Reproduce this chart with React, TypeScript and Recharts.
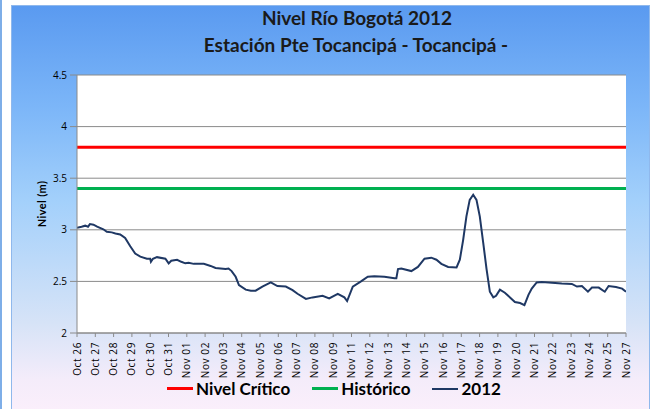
import React from 'react';
import { LineChart, Line, XAxis, YAxis, CartesianGrid, ReferenceLine } from 'recharts';

// x positions are in tick units (0 = Oct 26 tick, 30 = Nov 27 tick)
const fechas = [
  'Oct 26', 'Oct 27', 'Oct 28', 'Oct 29', 'Oct 30', 'Oct 31', 'Nov 01', 'Nov 02', 'Nov 03', 'Nov 04',
  'Nov 05', 'Nov 06', 'Nov 07', 'Nov 08', 'Nov 09', 'Nov 11', 'Nov 12', 'Nov 13', 'Nov 14', 'Nov 15',
  'Nov 16', 'Nov 17', 'Nov 18', 'Nov 19', 'Nov 20', 'Nov 21', 'Nov 22', 'Nov 23', 'Nov 24', 'Nov 25', 'Nov 27',
];

const posicion = [
  0, 0.25, 0.45, 0.6, 0.71, 0.9, 1.1, 1.44, 1.63, 1.9, 2.1, 2.36, 2.63, 2.91, 3.18, 3.46, 3.82, 4.0, 4.04, 4.15,
  4.37, 4.83, 5.01, 5.15, 5.47, 5.7, 5.92, 6.1, 6.38, 6.93, 7.3, 7.57, 8.12, 8.28, 8.45, 8.67, 8.85, 9.22, 9.5, 9.76,
  10.13, 10.59, 10.95, 11.41, 11.78, 12.05, 12.51, 12.87, 13.42, 13.78, 14.25, 14.61, 14.76, 15.07, 15.52, 15.89, 16.25, 16.8, 17.35, 17.45,
  17.54, 17.72, 18.27, 18.63, 18.99, 19.36, 19.64, 19.91, 20.28, 20.74, 20.92, 21.1, 21.28, 21.46, 21.65, 21.83, 22.01, 22.2, 22.38, 22.56,
  22.75, 22.9, 23.11, 23.38, 23.75, 23.93, 24.21, 24.45, 24.67, 24.85, 25.12, 25.4, 25.77, 26.49, 27.04, 27.32, 27.59, 27.92, 28.14, 28.51,
  28.84, 29.05, 29.45, 29.79, 30,
];

const nivel2012 = [
  3.02, 3.03, 3.04, 3.03, 3.055, 3.05, 3.03, 3.005, 2.98, 2.975, 2.965, 2.955, 2.92, 2.84, 2.77, 2.74, 2.72, 2.72, 2.69, 2.72,
  2.735, 2.72, 2.675, 2.7, 2.71, 2.69, 2.675, 2.68, 2.67, 2.67, 2.65, 2.63, 2.62, 2.625, 2.6, 2.545, 2.465, 2.42, 2.41, 2.41,
  2.45, 2.49, 2.455, 2.45, 2.415, 2.38, 2.33, 2.345, 2.36, 2.335, 2.38, 2.345, 2.31, 2.45, 2.5, 2.545, 2.55, 2.545, 2.53, 2.53,
  2.62, 2.625, 2.6, 2.64, 2.72, 2.73, 2.71, 2.67, 2.64, 2.635, 2.71, 2.9, 3.13, 3.29, 3.34, 3.29, 3.13, 2.87, 2.62, 2.4,
  2.345, 2.36, 2.42, 2.39, 2.33, 2.3, 2.29, 2.27, 2.37, 2.43, 2.49, 2.495, 2.49, 2.48, 2.475, 2.45, 2.455, 2.4, 2.44, 2.44,
  2.4, 2.455, 2.445, 2.43, 2.4,
];

const nivelCritico = 3.8;
const historico = 3.4;
const yTicks = [2, 2.5, 3, 3.5, 4, 4.5];

const series = [
  { name: 'Nivel Crítico', color: '#ff0000' },
  { name: 'Histórico', color: '#00b050' },
  { name: '2012', color: '#1f3864' },
];

const data = posicion.map((p, i) => ({ x: p, nivel: nivel2012[i] }));
const xTicks = fechas.map((_, i) => i);

const FONT = "Lato, 'Open Sans', sans-serif";

const FechaTick = ({ x, y, payload }: any) => (
  <text
    x={0}
    y={0}
    transform={`translate(${x + 3.5},${y + 3}) rotate(-90)`}
    textAnchor="end"
    fontSize={10}
    letterSpacing={0.6}
    fontFamily="'Open Sans', sans-serif"
    fill="#000"
  >
    {fechas[payload.value]}
  </text>
);

const App = () => {
  return (
    <div style={{ position: 'absolute', left: 0, top: 0, width: 651, height: 409, background: '#fff', overflow: 'hidden' }}>
      <div style={{ position: 'absolute', left: 0, top: 0, width: 2, height: 409, background: '#7eaee8' }} />
      <div
        style={{
          position: 'absolute', left: 11, top: 5, width: 637, height: 406,
          border: '1px solid #8fb8ec',
          background: 'linear-gradient(to bottom, #5a9af0 0%, #7cb6f8 25%, #a3d0fb 48%, #d6e3f7 78%, #f4ecfa 92%, #fbeffb 100%)',
        }}
      />
      <div style={{ position: 'absolute', left: 157, width: 400, top: 6, textAlign: 'center', fontFamily: FONT, fontWeight: 700, fontSize: 19, color: '#1a1a1a' }}>
        Nivel Río Bogotá 2012
      </div>
      <div style={{ position: 'absolute', left: 156, width: 400, top: 33, textAlign: 'center', fontFamily: FONT, fontWeight: 700, fontSize: 19, color: '#1a1a1a' }}>
        Estación Pte Tocancipá - Tocancipá -
      </div>
      <div
        style={{
          position: 'absolute', left: 41, top: 204, transform: 'translate(-50%, -50%) rotate(-90deg)',
          fontFamily: FONT, fontWeight: 700, fontSize: 11, letterSpacing: 0.4, whiteSpace: 'nowrap', color: '#000',
        }}
      >
        Nivel (m)
      </div>
      <div style={{ position: 'absolute', left: 0, top: 0 }}>
        <LineChart width={651} height={409} data={data} margin={{ top: 75, right: 25, bottom: 31, left: 47 }}>
          <CartesianGrid vertical={false} stroke="#8a8a8a" strokeWidth={1} fill="#ffffff" fillOpacity={1} />
          <XAxis
            dataKey="x"
            type="number"
            domain={[0, 30]}
            ticks={xTicks}
            interval={0}
            height={45}
            tick={<FechaTick />}
            tickSize={4}
            stroke="#8a8a8a"
            allowDataOverflow
          />
          <YAxis
            type="number"
            domain={[2, 4.5]}
            ticks={yTicks}
            width={30}
            tickSize={7}
            tickMargin={3}
            stroke="#8a8a8a"
            tick={{ fill: '#000', fontSize: 10, fontFamily: "'Open Sans', sans-serif" }}
            tickFormatter={(v: number) => String(v)}
          />
          <ReferenceLine y={nivelCritico} stroke={series[0].color} strokeWidth={3} ifOverflow="extendDomain" />
          <ReferenceLine y={historico} stroke={series[1].color} strokeWidth={3} ifOverflow="extendDomain" />
          <Line
            type="linear"
            dataKey="nivel"
            name="2012"
            stroke={series[2].color}
            strokeWidth={2}
            dot={false}
            isAnimationActive={false}
          />
        </LineChart>
      </div>
      <div
        style={{
          position: 'absolute', left: 0, width: 668, top: 378, display: 'flex', justifyContent: 'center',
          fontFamily: FONT, fontWeight: 700, fontSize: 17, color: '#000',
        }}
      >
        {series.map((s, i) => (
          <div key={s.name} style={{ display: 'flex', alignItems: 'center', marginLeft: i === 0 ? 0 : 22 }}>
            <div style={{ width: 26, height: s.name === '2012' ? 2 : 3, background: s.color, marginRight: 3 }} />
            <span>{s.name}</span>
          </div>
        ))}
      </div>
    </div>
  );
};

export default App;
